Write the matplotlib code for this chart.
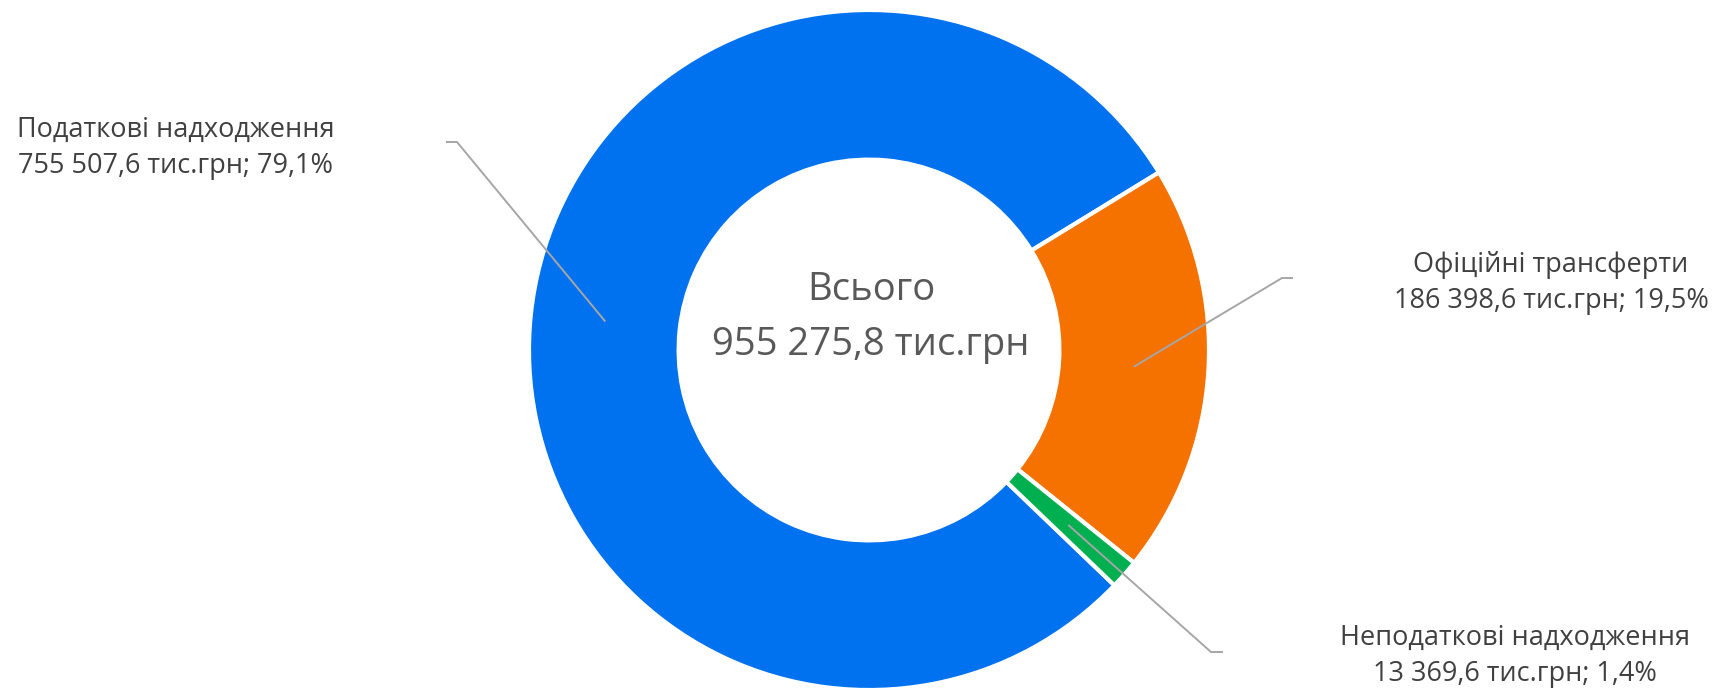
import matplotlib
matplotlib.use("Agg")
import matplotlib.pyplot as plt
import numpy as np

# data
categories = ["Податкові надходження", "Офіційні трансферти", "Неподаткові надходження"]
values = [755507.6, 186398.6, 13369.6]
value_labels = ["755 507,6", "186 398,6", "13 369,6"]
pct_labels = ["79,1%", "19,5%", "1,4%"]
total_label = "955 275,8"
colors = ["#0071EF", "#F57100", "#00AF50"]

W, H = 1724, 691
fig = plt.figure(figsize=(W / 100, H / 100), dpi=100)
ax = fig.add_axes([0, 0, 1, 1])

# donut centre / radius in pixel units (y measured from the top)
cx, cy = 869, H - 350
R = 340
ring = 0.44

wedges, _ = ax.pie(values, colors=colors, startangle=-43.8, counterclock=False,
                   radius=R, center=(cx, cy), frame=True,
                   wedgeprops=dict(width=R * ring, edgecolor="white", linewidth=3))
ax.set_xlim(0, W)
ax.set_ylim(0, H)
ax.set_aspect("equal")
ax.axis("off")

font = ["Open Sans", "DejaVu Sans"]
txt_col = "#404040"

# leader lines go from the middle of the ring to an elbow, then a short stub
anchor_r = R - R * ring / 2
elbows = [(457, 142), (1282, 278), (1211, 652)]
stubs = [(446, 142), (1293, 278), (1223, 652)]
# label centre x and first-line baseline (from top)
label_pos = [(176, 137), (1551, 272), (1515, 645)]
line_gap = 36

for i, w in enumerate(wedges):
    ang = np.deg2rad((w.theta1 + w.theta2) / 2)
    px = cx + anchor_r * np.cos(ang)
    py = cy + anchor_r * np.sin(ang)
    ex, ey = elbows[i]
    sx, sy = stubs[i]
    ax.plot([px, ex, sx], [py, H - ey, H - sy], color="#A6A6A6", lw=1.4,
            solid_capstyle="butt", zorder=5)
    lx, ly = label_pos[i]
    ax.text(lx, H - ly, categories[i], ha="center", va="baseline",
            fontsize=19.5, family=font, color=txt_col)
    ax.text(lx, H - ly - line_gap, f"{value_labels[i]} тис.грн; {pct_labels[i]}",
            ha="center", va="baseline", fontsize=19.5, family=font, color=txt_col)

ax.text(871, H - 300, "Всього", ha="center", va="baseline", fontsize=27.5,
        family=font, color="#595959")
ax.text(871, H - 355, f"{total_label} тис.грн", ha="center", va="baseline", fontsize=27.5,
        family=font, color="#595959")

fig.savefig("out.png", dpi=100, facecolor="white")
